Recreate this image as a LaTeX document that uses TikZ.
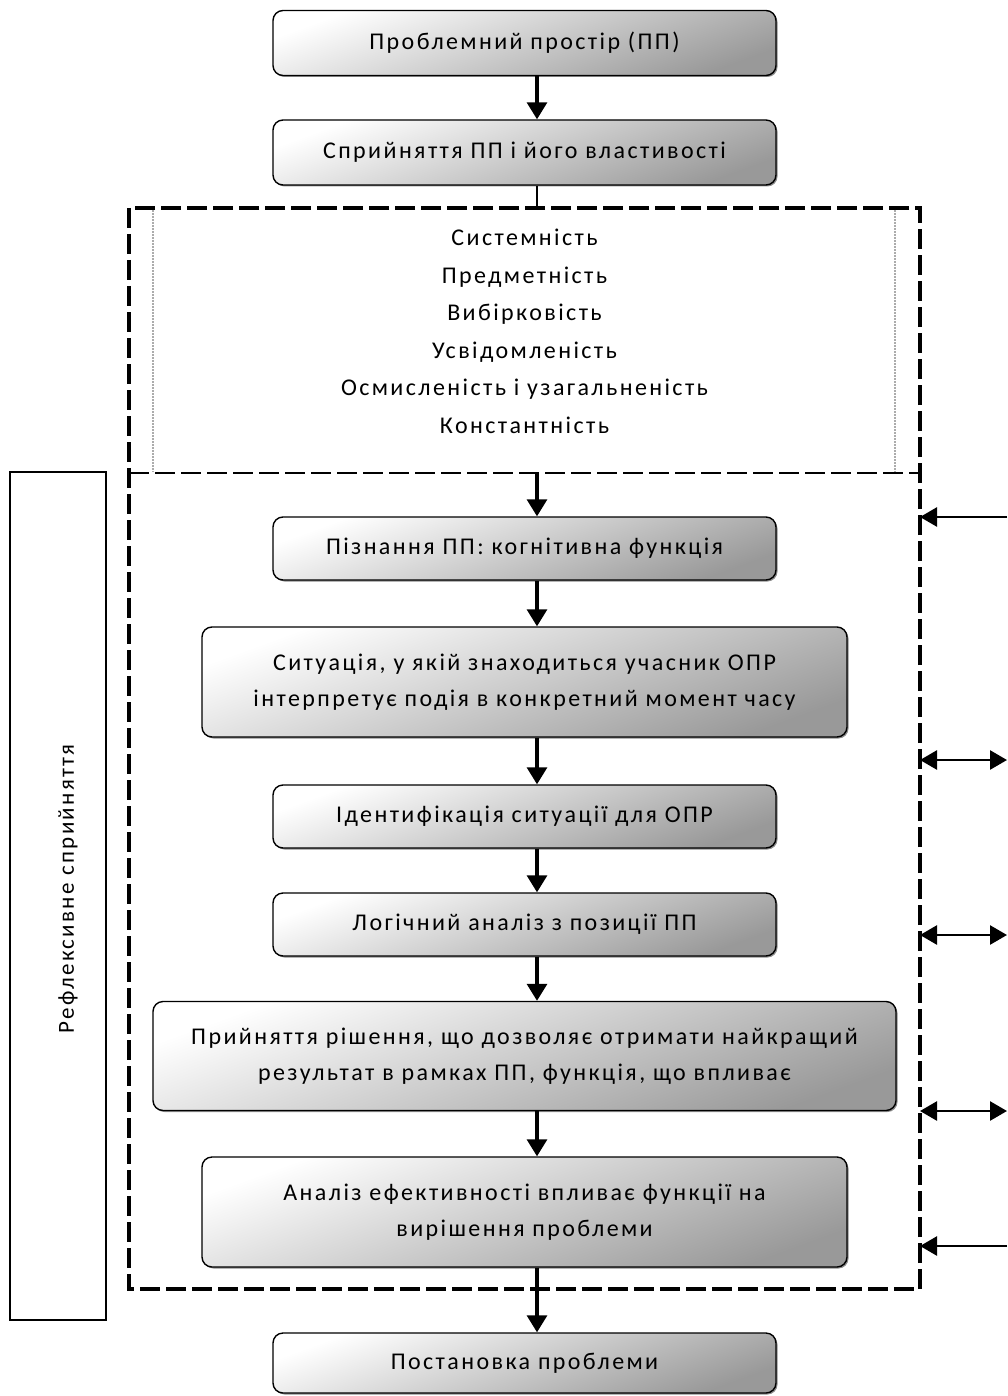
\documentclass[tikz,border=0pt]{standalone}
\usepackage{fontspec}
\setmainfont{Carlito}[LetterSpace=10]
\usetikzlibrary{arrows.meta,shadows}
\begin{document}
\begin{tikzpicture}[x=1pt,y=-1pt,
  pbox/.style={draw=black, line width=1.4pt, rounded corners=10pt,
    shading=axis, top color=white, bottom color=gray!80, shading angle=20,
    drop shadow={shadow xshift=1.5pt, shadow yshift=-1.5pt, opacity=.45, fill=black},
    align=center, font=\fontsize{24}{36}\selectfont, inner sep=0pt},
  flow/.style={line width=3.2pt, -{Triangle[length=17pt,width=20pt]}},
  side/.style={line width=2.6pt, -{Triangle[length=17pt,width=19pt]}},
  sided/.style={line width=2.6pt, {Triangle[length=17pt,width=19pt]}-{Triangle[length=17pt,width=19pt]}},
  frame/.style={line width=3.5pt, dash pattern=on 20pt off 6pt},
  txt/.style={font=\fontsize{24}{37.5}\selectfont, align=center}
]
\useasboundingbox (0,0) rectangle (1007,1396);

% outer dashed frame
\draw[frame] (129,208) rectangle (920,1289);
% inner dotted box
\draw[gray!65, line width=2pt, densely dotted] (153,210) -- (153,472);
\draw[gray!65, line width=2pt, densely dotted] (895,210) -- (895,472);
\draw[line width=2.5pt, dash pattern=on 20pt off 6pt] (129,473) -- (920,473);

% left box
\node[draw, line width=1.4pt, minimum width=96pt, minimum height=848pt, inner sep=0pt] (left) at (58,896) {};
\node[rotate=90, font=\fontsize{23}{24}\selectfont] (lefttxt) at (68,889) {Рефлексивне  сприйняття};

% boxes
\node[pbox, minimum width=503pt, minimum height=65pt] (b1) at (524.5,43) {Проблемний простір (ПП)};
\node[pbox, minimum width=503pt, minimum height=65pt] (b2) at (524.5,152.5) {Сприйняття ПП і його властивості};
\node[txt] (list) at (524.5,331.5) {Системність\\Предметність\\Вибірковість\\Усвідомленість\\Осмисленість і узагальненість\\Константність};
\node[pbox, minimum width=503pt, minimum height=63pt] (b3) at (524.5,548.5) {Пізнання ПП: когнітивна функція};
\node[pbox, minimum width=645pt, minimum height=110pt] (b4) at (524.5,682) {Ситуація, у якій знаходиться учасник ОПР\\інтерпретує подія в конкретний момент часу};
\node[pbox, minimum width=503pt, minimum height=63pt] (b5) at (524.5,816.5) {Ідентифікація ситуації для ОПР};
\node[pbox, minimum width=503pt, minimum height=63pt] (b6) at (524.5,924.5) {Логічний аналіз з позиції ПП};
\node[pbox, minimum width=743pt, minimum height=109pt] (b7) at (524.5,1056) {Прийняття рішення, що дозволяє отримати найкращий\\результат в рамках ПП, функція, що впливає};
\node[pbox, minimum width=645pt, minimum height=110pt] (b8) at (524.5,1212) {Аналіз ефективності впливає функції на\\вирішення проблеми};
\node[pbox, minimum width=503pt, minimum height=60pt] (b9) at (524.5,1363) {Постановка проблеми};

% coordinates
\coordinate (c2) at (537,208);
\coordinate (c3) at (537,473);
\foreach \n/\y in {r1/517, r2/760, r3/935, r4/1111, r5/1246}{
  \coordinate (\n a) at (920,\y);
  \coordinate (\n b) at (1007,\y);
}

% flow arrows
\draw[flow] (b1.south -| 537,0) -- (b2.north -| 537,0);
\draw[line width=1.2pt] (b2.south -| 537,0) -- (c2);
\draw[flow] (c3) -- (b3.north -| 537,0);
\draw[flow] (b3.south -| 537,0) -- (b4.north -| 537,0);
\draw[flow] (b4.south -| 537,0) -- (b5.north -| 537,0);
\draw[flow] (b5.south -| 537,0) -- (b6.north -| 537,0);
\draw[flow] (b6.south -| 537,0) -- (b7.north -| 537,0);
\draw[flow] (b7.south -| 537,0) -- (b8.north -| 537,0);
\draw[flow] (b8.south -| 537,0) -- (b9.north -| 537,0);

% side arrows
\draw[side] (r1b) -- (r1a);
\draw[sided] (r2a) -- (r2b);
\draw[sided] (r3a) -- (r3b);
\draw[sided] (r4a) -- (r4b);
\draw[side] (r5b) -- (r5a);
\end{tikzpicture}
\end{document}
